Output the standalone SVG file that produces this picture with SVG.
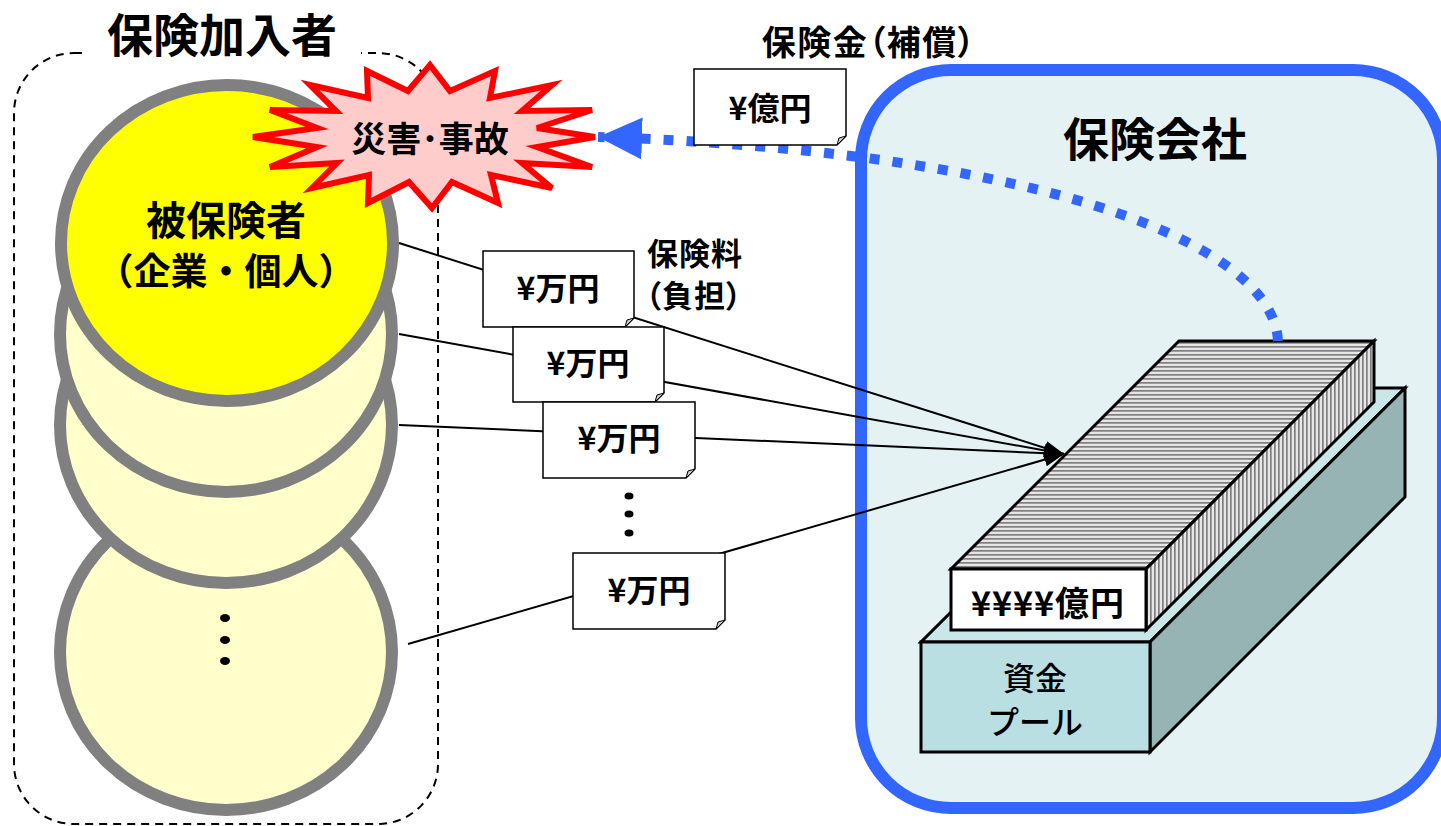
<svg xmlns="http://www.w3.org/2000/svg" width="1441" height="826" viewBox="0 0 1441 826">
  <defs>
    <style>
      text { font-family: 'Noto Sans CJK JP', 'Noto Sans', sans-serif; fill: #000; }
      .b { font-weight: 700; }
      .m { font-weight: 500; }
      .palt { font-feature-settings: 'palt'; }
      .note { fill: #fff; stroke: #000; stroke-width: 1.5; }
      .fold { fill: #cccccc; stroke: #000; stroke-width: 1; }
      .disc { stroke: #808080; stroke-width: 12; }
      .flow { fill: none; stroke: #000; stroke-width: 2; marker-end: url(#ah); }
      .edge { stroke: #000; stroke-width: 3; stroke-linejoin: miter; }
    </style>
    <!-- stacked-notes texture -->
    <pattern id="hstripe" width="4" height="4" patternUnits="userSpaceOnUse">
      <rect width="4" height="4" fill="#E6E6E6"/>
      <rect y="2" width="4" height="1.7" fill="#7F7F7F"/>
    </pattern>
    <pattern id="vstripe" width="4" height="4" patternUnits="userSpaceOnUse">
      <rect width="4" height="4" fill="#E6E6E6"/>
      <rect x="2" width="1.7" height="4" fill="#7F7F7F"/>
    </pattern>
    <marker id="ah" markerUnits="userSpaceOnUse" markerWidth="22" markerHeight="16" refX="20" refY="7" orient="auto">
      <path d="M0,0 L20,7 L0,14 Z" fill="#000"/>
    </marker>
    <marker id="bh" markerUnits="userSpaceOnUse" markerWidth="46" markerHeight="46" refX="44" refY="21" orient="auto">
      <path d="M0,0 L44,21 L0,42 Z" fill="#3366FF"/>
    </marker>
  </defs>

  <rect width="1441" height="826" fill="#fff"/>

  <!-- policyholders group -->
  <g id="policyholders">
    <rect x="14" y="53" width="424" height="771" rx="60" fill="none" stroke="#000" stroke-width="2" stroke-dasharray="8 6"/>
    <rect x="84" y="44" width="277" height="18" fill="#fff"/>
    <text class="b" x="222" y="52" font-size="46" text-anchor="middle">保険加入者</text>
  </g>

  <g id="member-4">
    <ellipse class="disc" cx="226" cy="652" rx="166" ry="158" fill="#FFFFCC"/>
    <ellipse cx="225" cy="618" rx="5" ry="4"/>
    <ellipse cx="225" cy="640" rx="5" ry="4"/>
    <ellipse cx="225" cy="661" rx="5" ry="4"/>
  </g>
  <g id="member-3">
    <ellipse class="disc" cx="226" cy="425" rx="166" ry="158" fill="#FFFFCC"/>
  </g>
  <g id="member-2">
    <ellipse class="disc" cx="226" cy="334" rx="166" ry="158" fill="#FFFFCC"/>
  </g>
  <g id="insured">
    <ellipse class="disc" cx="227" cy="243" rx="166" ry="158" fill="#FFFF00"/>
    <text class="b" x="226" y="235" font-size="40" text-anchor="middle">被保険者</text>
    <text class="b" x="226" y="285" font-size="37" text-anchor="middle">（企業・個人）</text>
  </g>

  <!-- accident burst -->
  <g id="accident">
    <polygon points="430,65 450,91 495,71 490,98 552,85 522,111 592,110 537,128 595,137 537,147 592,167 522,163 552,188 491,175 498,203 452,182 432,208 409,182 368,203 369,175 312,188 337,163 270,167 317,147 253,137 317,128 270,110 336,111 310,85 368,98 367,71 408,91"
             fill="#FFCCCC" stroke="#FF0000" stroke-width="6" stroke-linejoin="miter"/>
    <text class="b" x="430" y="152" font-size="35" text-anchor="middle">災害･事故</text>
  </g>

  <!-- insurer -->
  <g id="insurer">
    <rect x="861" y="70" width="582" height="738" rx="90" fill="#E4F2F4" stroke="#3366FF" stroke-width="12"/>
    <text class="b" x="1155" y="156" font-size="46" text-anchor="middle">保険会社</text>
  </g>

  <!-- fund pool block -->
  <g id="fund-pool">
    <polygon class="edge" points="921,642 1150,642 1405,388 1176,388" fill="#C9E6E8"/>
    <polygon class="edge" points="1150,642 1405,388 1405,497 1150,752" fill="#97B4B5"/>
    <rect class="edge" x="921" y="642" width="229" height="110" fill="#B9DFE2"/>
    <text class="m" x="1035" y="690" font-size="32" text-anchor="middle">資金</text>
    <text class="m" x="1035" y="734" font-size="32" text-anchor="middle">プール</text>
  </g>

  <!-- accumulated premiums stack -->
  <g id="reserve">
    <polygon class="edge" points="951,569 1146,569 1374,341 1179,341" fill="url(#hstripe)"/>
    <polygon class="edge" points="1146,569 1374,341 1374,402 1146,630" fill="url(#vstripe)"/>
    <rect class="edge" x="951" y="569" width="195" height="61" fill="#fff"/>
    <text class="b" x="1048" y="616" font-size="34" text-anchor="middle" letter-spacing="1">¥¥¥¥億円</text>
  </g>

  <!-- connectors -->
  <g id="connectors">
    <line class="flow" x1="399" y1="243" x2="1064" y2="454"/>
    <line class="flow" x1="399" y1="334" x2="1064" y2="454"/>
    <line class="flow" x1="399" y1="425" x2="1064" y2="454"/>
    <line class="flow" x1="408" y1="644" x2="1064" y2="454"/>
    <path d="M1278,341 C1272,235 1010,150 598,137" fill="none" stroke="#3366FF" stroke-width="10" stroke-dasharray="10 13" marker-end="url(#bh)"/>
  </g>

  <!-- premium notes -->
  <g id="premium-1">
    <path class="note" d="M483,251 H634 V318 L625,327 H483 Z"/>
    <path class="fold" d="M625,327 L627,320 L634,318 Z"/>
    <text class="b" x="558" y="300" font-size="32" text-anchor="middle">¥万円</text>
  </g>
  <g id="premium-2">
    <path class="note" d="M513,327 H664 V393 L655,402 H513 Z"/>
    <path class="fold" d="M655,402 L657,395 L664,393 Z"/>
    <text class="b" x="588" y="375" font-size="32" text-anchor="middle">¥万円</text>
  </g>
  <g id="premium-3">
    <path class="note" d="M543,402 H695 V469 L686,478 H543 Z"/>
    <path class="fold" d="M686,478 L688,471 L695,469 Z"/>
    <text class="b" x="619" y="450" font-size="32" text-anchor="middle">¥万円</text>
  </g>
  <g id="premium-more">
    <ellipse cx="629" cy="496" rx="4.5" ry="3.5"/>
    <ellipse cx="629" cy="514" rx="4.5" ry="3.5"/>
    <ellipse cx="629" cy="533" rx="4.5" ry="3.5"/>
  </g>
  <g id="premium-4">
    <path class="note" d="M573,553 H725 V620 L716,629 H573 Z"/>
    <path class="fold" d="M716,629 L718,622 L725,620 Z"/>
    <text class="b" x="649" y="602" font-size="32" text-anchor="middle">¥万円</text>
  </g>
  <g id="premium-label">
    <text class="b palt" x="695" y="265" font-size="31" text-anchor="middle" letter-spacing="1">保険料</text>
    <text class="b palt" x="694" y="307" font-size="31" text-anchor="middle" letter-spacing="1">（負担）</text>
  </g>

  <!-- claim payout note -->
  <g id="payout">
    <path class="note" d="M694,69 H846 V136 L837,145 H694 Z"/>
    <path class="fold" d="M837,145 L839,138 L846,136 Z"/>
    <text class="b" x="770" y="120" font-size="32" text-anchor="middle">¥億円</text>
    <text class="b palt" x="869" y="55" font-size="34" text-anchor="middle" letter-spacing="1.5">保険金（補償）</text>
  </g>
</svg>
